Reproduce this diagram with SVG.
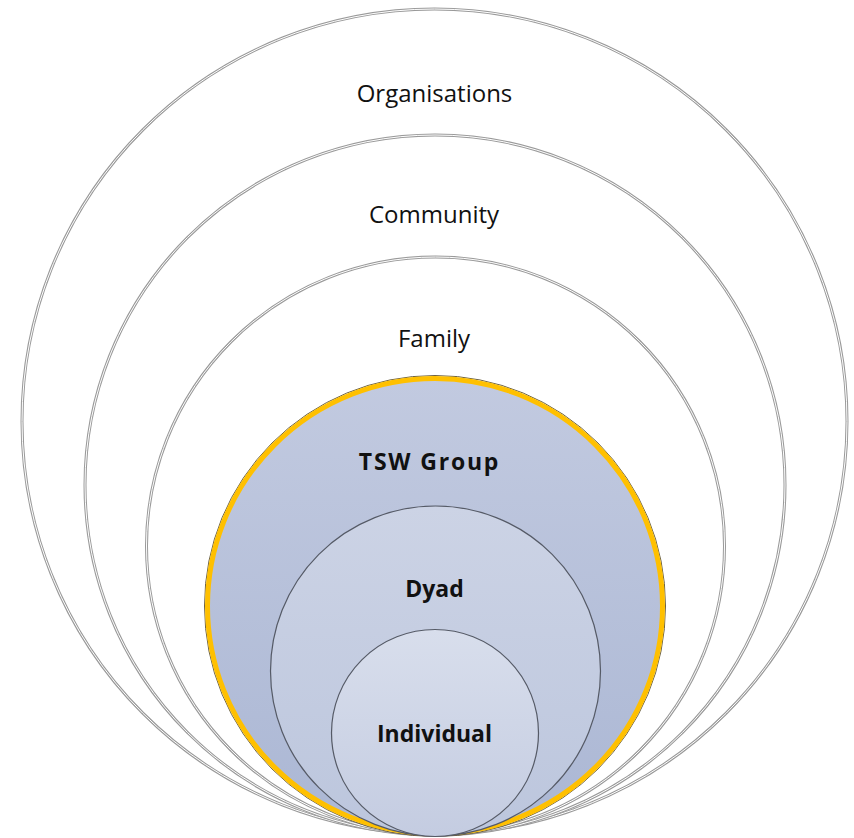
<svg xmlns="http://www.w3.org/2000/svg" width="854" height="838" viewBox="0 0 854 838">
<style>
.outer{fill:none;stroke:#9a9a9a;stroke-width:3}
.outerIn{fill:none;stroke:#ffffff;stroke-width:1}
.lbl{font-family:"Open Sans","Liberation Sans",sans-serif;font-size:24px;fill:#111;text-anchor:middle}
.blbl{font-family:"Open Sans","Liberation Sans",sans-serif;font-size:23px;font-weight:bold;fill:#111;text-anchor:middle}
.inner{stroke:#555a66;stroke-width:1.2}
</style>
<defs>
<linearGradient id="gTsw" x1="0" y1="0" x2="0" y2="1">
<stop offset="0" stop-color="#c2cae0"/>
<stop offset="1" stop-color="#abb7d4"/>
</linearGradient>
<linearGradient id="gDyad" x1="0" y1="0" x2="0" y2="1">
<stop offset="0" stop-color="#ccd3e5"/>
<stop offset="1" stop-color="#bcc6dd"/>
</linearGradient>
<linearGradient id="gInd" x1="0" y1="0" x2="0" y2="1">
<stop offset="0" stop-color="#d8deec"/>
<stop offset="1" stop-color="#c4cce1"/>
</linearGradient>
</defs>
<rect width="854" height="838" fill="#ffffff"/>
<g id="organisations">
<circle class="outer" cx="434.5" cy="421.5" r="412.5"/>
<circle class="outerIn" cx="434.5" cy="421.5" r="412.5"/>
<text class="lbl" x="434.5" y="102">Organisations</text>
</g>
<g id="community">
<circle class="outer" cx="435" cy="485" r="350"/>
<circle class="outerIn" cx="435" cy="485" r="350"/>
<text class="lbl" x="434" y="223">Community</text>
</g>
<g id="family">
<circle class="outer" cx="435.5" cy="546" r="289"/>
<circle class="outerIn" cx="435.5" cy="546" r="289"/>
<text class="lbl" x="434" y="347">Family</text>
</g>
<g id="tsw-group">
<circle cx="435" cy="606" r="230.5" fill="none" stroke="#6b6040" stroke-width="1"/>
<circle cx="435" cy="606" r="227.5" fill="url(#gTsw)" stroke="#ffc000" stroke-width="5"/>
<text class="blbl" x="429.5" y="470" letter-spacing="1.8">TSW Group</text>
</g>
<g id="dyad">
<circle class="inner" cx="435.5" cy="671" r="165" fill="url(#gDyad)"/>
<text class="blbl" x="434.5" y="597">Dyad</text>
</g>
<g id="individual">
<circle class="inner" cx="435" cy="733" r="103.5" fill="url(#gInd)"/>
<text class="blbl" x="434.5" y="742">Individual</text>
</g>
<g id="connectors"></g>
</svg>
